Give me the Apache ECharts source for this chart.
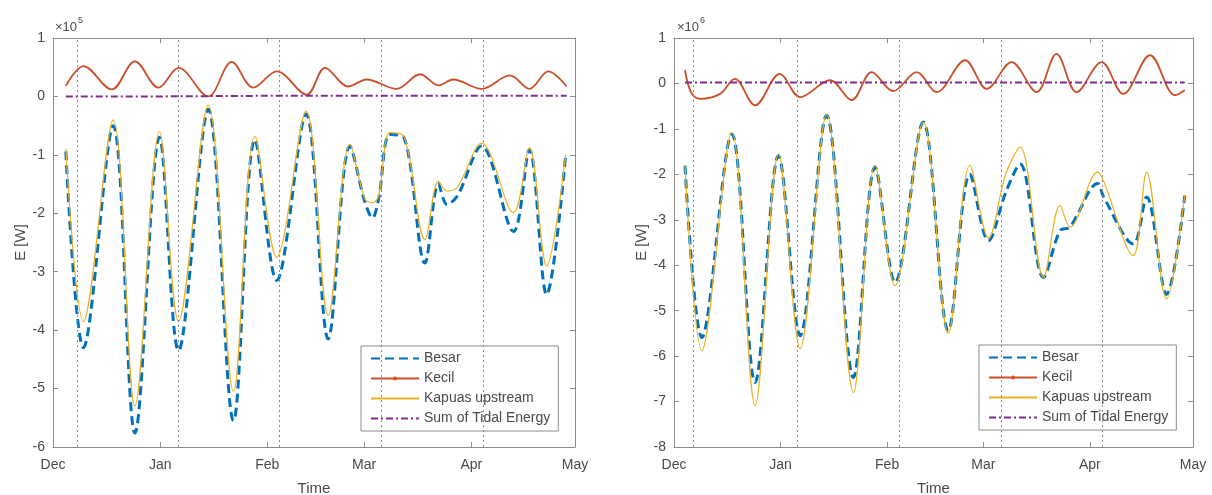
<!DOCTYPE html>
<html>
<head>
<meta charset="utf-8">
<title>Tidal energy</title>
<script src="https://cdn.jsdelivr.net/npm/echarts@6.0.0/dist/echarts.min.js"></script>
<style>
  html, body { margin: 0; padding: 0; background: #fff; }
  #chart { width: 1212px; height: 495px; }
</style>
</head>
<body>
<div id="chart"></div>
<script>
// x axis is counted in days from 1 Dec
const monthDays = [0, 31, 62, 90, 121, 151];
const monthNames = ['Dec', 'Jan', 'Feb', 'Mar', 'Apr', 'May'];
const seriesNames = ['Besar', 'Kecil', 'Kapuas upstream', 'Sum of Tidal Energy'];

// left panel, values x10^5 W
const refDaysLeft = [6.9, 36.2, 65.4, 94.9, 124.4];
const daysLeft = [3.7, 8.8, 17.4, 23.7, 30.8, 36.3, 44.9, 52.2, 58.4, 64.7, 73.2, 79.6, 85.9, 90.2, 92.4, 94.2, 97.5, 101.5, 107.6, 111.5, 114, 117, 124, 133.2, 137.8, 142.8, 148.3];
const besarLeft = [-0.94, -4.3, -0.5, -5.76, -0.7, -4.35, -0.22, -5.55, -0.74, -3.15, -0.3, -4.15, -0.85, -1.8, -2.08, -1.75, -0.65, -0.7, -2.85, -1.5, -1.85, -1.7, -0.85, -2.31, -0.91, -3.39, -1.0];
const kapuasLeft = [-0.9, -3.85, -0.4, -5.3, -0.6, -3.85, -0.15, -5.05, -0.68, -2.75, -0.25, -3.75, -0.82, -1.75, -1.82, -1.7, -0.62, -0.68, -2.45, -1.45, -1.62, -1.55, -0.8, -1.99, -0.88, -2.9, -1.0];
const kecilDaysLeft = [3.7, 8.8, 17, 23.7, 30.5, 36.3, 44.9, 51.7, 57.9, 64.7, 73.4, 78.7, 85.4, 90.7, 99.4, 106.2, 111.5, 115.8, 124, 132.2, 137.8, 143.3, 148.6];
const kecilLeft = [0.18, 0.52, 0.12, 0.6, 0.15, 0.49, 0.0, 0.59, 0.15, 0.43, 0.03, 0.49, 0.17, 0.29, 0.13, 0.38, 0.19, 0.29, 0.13, 0.36, 0.13, 0.43, 0.17];
const sumDaysLeft = [3.7, 30, 60, 90, 120, 148.6];
const sumLeft = [0.0, 0.0, 0.01, 0.01, 0.01, 0.01];

// right panel, values x10^6 W
const refDaysRight = [5.5, 35.8, 65.5, 95.1, 124.5];
const daysRight = [3.2, 8.1, 16.8, 23.6, 30.4, 36.7, 44.4, 52.2, 58.5, 64.3, 72.5, 79.8, 86.1, 91.5, 96.5, 100.7, 107.5, 112.3, 115.2, 123.3, 125, 133.6, 137.5, 143.3, 148.6];
const besarRight = [-1.81, -5.59, -1.11, -6.58, -1.59, -5.55, -0.7, -6.47, -1.84, -4.38, -0.85, -5.44, -2.0, -3.46, -2.4, -1.77, -4.27, -3.24, -3.16, -2.2, -2.5, -3.53, -2.5, -4.64, -2.47];
const kapuasRight = [-1.81, -5.88, -1.08, -7.09, -1.55, -5.84, -0.68, -6.8, -1.8, -4.45, -0.85, -5.5, -1.8, -3.4, -2.0, -1.4, -4.27, -2.69, -3.16, -1.95, -2.15, -3.79, -1.95, -4.74, -2.45];
const kecilDaysRight = [3.2, 5, 7.6, 13.4, 17.7, 23.6, 30.8, 36.7, 45.4, 51.7, 57.5, 63.8, 70.6, 76.4, 84.7, 91, 98.2, 105.5, 111.3, 117.1, 124.4, 130.7, 138.5, 145.8, 148.6];
const kecilRight = [0.29, -0.2, -0.34, -0.23, 0.1, -0.48, 0.21, -0.3, 0.07, -0.37, 0.25, -0.17, 0.25, -0.19, 0.51, -0.12, 0.47, -0.19, 0.65, -0.19, 0.47, -0.23, 0.62, -0.26, -0.15];
const sumDaysRight = [3.2, 30, 60, 90, 120, 148.6];
const sumRight = [0.02, 0.02, 0.02, 0.02, 0.02, 0.02];

const FONT = 'Liberation Sans, Arial, sans-serif';
const axisColor = '#8c8c8c';
const textColor = '#4a4a4a';

function zip(xs, ys) {
  return xs.map((x, i) => [x, ys[i]]);
}

function xAxisFor(grid, pos) {
  return {
    type: 'value',
    gridIndex: grid,
    position: pos,
    min: 0,
    max: 151,
    axisLine: { show: true, onZero: false, lineStyle: { color: axisColor } },
    axisTick: { show: true, inside: true, length: 5, customValues: monthDays, lineStyle: { color: axisColor } },
    axisLabel: {
      show: pos === 'bottom',
      customValues: monthDays,
      formatter: (v) => monthNames[monthDays.indexOf(v)],
      color: textColor,
      fontFamily: FONT,
      fontSize: 14,
      margin: 11,
    },
    splitLine: { show: false },
    name: pos === 'bottom' ? 'Time' : '',
    nameLocation: 'middle',
    nameGap: 34,
    nameTextStyle: { color: textColor, fontFamily: FONT, fontSize: 15 },
  };
}

function yAxisFor(grid, pos, min) {
  return {
    type: 'value',
    gridIndex: grid,
    position: pos,
    min: min,
    max: 1,
    interval: 1,
    axisLine: { show: true, onZero: false, lineStyle: { color: axisColor } },
    axisTick: { show: true, inside: true, length: 5, lineStyle: { color: axisColor } },
    axisLabel: { show: pos === 'left', color: textColor, fontFamily: FONT, fontSize: 14, margin: 8 },
    splitLine: { show: false },
    name: pos === 'left' ? 'E [W]' : '',
    nameLocation: 'middle',
    nameGap: 24,
    nameTextStyle: { color: textColor, fontFamily: FONT, fontSize: 15 },
  };
}

function panelSeries(axisIdx, days, besar, kapuas, kDays, kecil, sDays, sum, refDays) {
  const base = { type: 'line', xAxisIndex: axisIdx, yAxisIndex: axisIdx, showSymbol: false, smooth: 0.35, silent: true };
  return [
    Object.assign({}, base, {
      name: seriesNames[0], symbol: 'none', z: 2,
      data: zip(days, besar),
      lineStyle: { color: '#0072BD', width: 3, type: [9, 5] },
      itemStyle: { color: '#0072BD' },
    }),
    Object.assign({}, base, {
      name: seriesNames[1], symbol: 'circle', symbolSize: 4, z: 3,
      data: zip(kDays, kecil),
      lineStyle: { color: '#C9502A', width: 1.8 },
      itemStyle: { color: '#D95319' },
    }),
    Object.assign({}, base, {
      name: seriesNames[2], symbol: 'none', z: 4,
      data: zip(days, kapuas),
      lineStyle: { color: '#EDB120', width: 1.2 },
      itemStyle: { color: '#EDB120' },
    }),
    Object.assign({}, base, {
      name: seriesNames[3], symbol: 'none', z: 5, smooth: false,
      data: zip(sDays, sum),
      lineStyle: { color: '#7E2F8E', width: 2, type: [7, 3, 2, 3] },
      itemStyle: { color: '#7E2F8E' },
      markLine: {
        silent: true,
        symbol: ['none', 'none'],
        label: { show: false },
        lineStyle: { color: '#8c8c8c', width: 1, type: [2, 3] },
        data: refDays.map((d) => ({ xAxis: d })),
      },
    }),
  ];
}

function legendFor(left, top) {
  // only Kecil keeps a marker in its legend sample
  const hidden = { opacity: 0 };
  return {
    data: [
      { name: seriesNames[0], itemStyle: hidden },
      { name: seriesNames[1] },
      { name: seriesNames[2], itemStyle: hidden },
      { name: seriesNames[3], itemStyle: hidden },
    ],
    orient: 'vertical',
    left: left,
    top: top,
    padding: [5, 8, 5, 9],
    itemWidth: 48,
    itemHeight: 5,
    itemGap: 5,
    borderColor: '#8c8c8c',
    borderWidth: 1,
    backgroundColor: '#fff',
    selectedMode: false,
    textStyle: { color: textColor, fontFamily: FONT, fontSize: 14, lineHeight: 15 },
  };
}

const chart = echarts.init(document.getElementById('chart'));
chart.setOption({
  animation: false,
  backgroundColor: '#fff',
  grid: [
    { left: 53, top: 38, width: 522, height: 409, outerBoundsMode: 'none' },
    { left: 674, top: 38, width: 519, height: 409, outerBoundsMode: 'none' },
  ],
  xAxis: [xAxisFor(0, 'bottom'), xAxisFor(1, 'bottom'), xAxisFor(0, 'top'), xAxisFor(1, 'top')],
  yAxis: [yAxisFor(0, 'left', -6), yAxisFor(1, 'left', -8), yAxisFor(0, 'right', -6), yAxisFor(1, 'right', -8)],
  legend: [legendFor(361, 346), legendFor(979, 345)],
  graphic: [
    { type: 'text', left: 55, top: 21, style: { text: '×10', fill: textColor, font: '13px ' + FONT } },
    { type: 'text', left: 78, top: 16, style: { text: '5', fill: textColor, font: '9px ' + FONT } },
    { type: 'text', left: 677, top: 21, style: { text: '×10', fill: textColor, font: '13px ' + FONT } },
    { type: 'text', left: 700, top: 16, style: { text: '6', fill: textColor, font: '9px ' + FONT } },
  ],
  series: [].concat(
    panelSeries(0, daysLeft, besarLeft, kapuasLeft, kecilDaysLeft, kecilLeft, sumDaysLeft, sumLeft, refDaysLeft),
    panelSeries(1, daysRight, besarRight, kapuasRight, kecilDaysRight, kecilRight, sumDaysRight, sumRight, refDaysRight)
  ),
});
</script>
</body>
</html>
